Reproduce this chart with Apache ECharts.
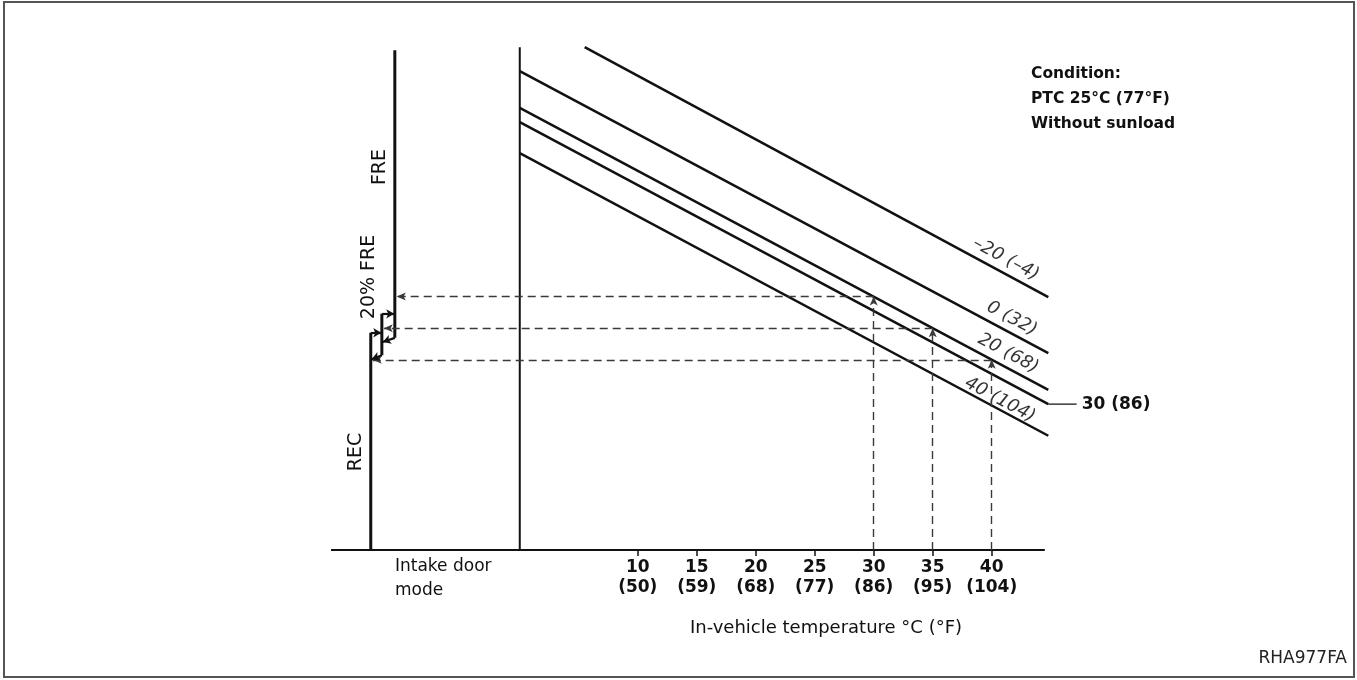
<!DOCTYPE html>
<html>
<head>
<meta charset="utf-8">
<script src="https://cdn.jsdelivr.net/npm/echarts@6.0.0/dist/echarts.min.js"></script>
<style>
html, body { margin: 0; padding: 0; background: #fff; }
#myChart { width: 1357px; height: 680px; }
</style>
</head>
<body>
<div id="myChart"></div>
<script>
// in-vehicle temperature ticks, °C and °F
const tempC = [10, 15, 20, 25, 30, 35, 40];
const tempF = [50, 59, 68, 77, 86, 95, 104];
const axisStart = -16;
const axisEnd = 44.5;

// ambient temperature lines (y = intake signal level, 0..100)
const ambientLabels = ['–20 (–4)', '0 (32)', '20 (68)', '30 (86)', '40 (104)'];
const startTemp = [5.5, 0, 0, 0, 0];
const startLevel = [98.6, 93.9, 86.7, 83.9, 77.8];
const endTemp = [44.8, 44.8, 44.8, 44.8, 44.8];
const endLevel = [49.6, 38.6, 31.4, 28.6, 22.4];

// intake door mode steps (REC / 20% FRE / FRE)
const modeNames = ['REC', '20% FRE', 'FRE'];
const modePos = [-12.63, -11.69, -10.59];
const modeLow = [0, 38.2, 41.6];
const modeHigh = [42.6, 46.3, 98.0];

// dashed read-off examples
const checkTemp = [30, 35, 40];
const checkLevel = [49.7, 43.5, 37.3];
const checkMode = [2, 1, 0];

const dividerTop = 98.6;

const FONT = '"DejaVu Sans", "Liberation Sans", Arial, sans-serif';
const INK = '#111';

var myChart = echarts.init(document.getElementById('myChart'), null, {renderer: 'canvas'});

// slanted line labels sit just above their line
const labelAt = [41.2, 41.7, 41.4, null, 40.7];
const labelLift = [15, 15, 15, 0, 10]; // px
const pxPerUnit = 5.1;

var series = [];

// baseline (temperature axis line)
series.push({
    type: 'line',
    data: [[axisStart, 0], [axisEnd, 0]],
    symbol: 'none',
    silent: true,
    lineStyle: {color: INK, width: 2}
});

// ambient lines
for (var i = 0; i < ambientLabels.length; i++) {
    series.push({
        type: 'line',
        data: [[startTemp[i], startLevel[i]], [endTemp[i], endLevel[i]]],
        symbol: 'none',
        silent: true,
        lineStyle: {color: INK, width: 2.5}
    });
}

// labels along the lines
var labelData = [];
for (var i = 0; i < ambientLabels.length; i++) {
    if (labelAt[i] === null) continue;
    var t = (labelAt[i] - startTemp[i]) / (endTemp[i] - startTemp[i]);
    var lv = startLevel[i] + (endLevel[i] - startLevel[i]) * t + labelLift[i] / pxPerUnit;
    labelData.push({value: [labelAt[i], lv], name: ambientLabels[i]});
}
series.push({
    type: 'scatter',
    data: labelData,
    symbolSize: 2,
    itemStyle: {color: 'rgba(0,0,0,0)'},
    silent: true,
    label: {
        show: true,
        position: 'inside',
        formatter: function (p) { return p.name; },
        rotate: -28,
        fontFamily: FONT,
        fontStyle: 'italic',
        fontSize: 18,
        color: '#000',
        textBorderWidth: 0,
        align: 'center',
        verticalAlign: 'middle'
    }
});

// leader for 30 (86)
series.push({
    type: 'line',
    data: [[endTemp[3], endLevel[3]], [endTemp[3] + 2.4, endLevel[3]]],
    symbol: 'none',
    silent: true,
    lineStyle: {color: INK, width: 1.2},
    endLabel: {
        show: true,
        formatter: ambientLabels[3],
        fontFamily: FONT,
        fontWeight: 'bold',
        fontSize: 17,
        color: INK,
        distance: 5
    }
});

// divider line at 0 °C plus dashed read-off guides
var guides = [];
for (var k = 0; k < checkTemp.length; k++) {
    guides.push([{coord: [checkTemp[k], 0]}, {coord: [checkTemp[k], checkLevel[k]]}]);
    guides.push([{coord: [checkTemp[k], checkLevel[k]]}, {coord: [modePos[checkMode[k]] + 0.17, checkLevel[k]]}]);
}
series.push({
    type: 'line',
    data: [[0, 0], [0, dividerTop]],
    symbol: 'none',
    silent: true,
    lineStyle: {color: INK, width: 2},
    markLine: {
        silent: true,
        animation: false,
        symbol: ['none', 'arrow'],
        symbolSize: [6, 9],
        label: {show: false},
        emphasis: {disabled: true},
        lineStyle: {color: '#3a3a3a', width: 1.4, type: [8, 5]},
        data: guides
    }
});

// intake door mode segments and step arrows
var steps = [
    [{coord: [modePos[0], modeHigh[0]]}, {coord: [modePos[1] - 0.05, modeHigh[0]]}],
    [{coord: [modePos[1], modeHigh[1]]}, {coord: [modePos[2] - 0.05, modeHigh[1]]}],
    [{coord: [modePos[2], modeLow[2]]}, {coord: [modePos[1] + 0.08, modeLow[2] - 0.8]}],
    [{coord: [modePos[1], modeLow[1]]}, {coord: [modePos[0] + 0.08, modeLow[1] - 0.8]}]
];
for (var m = 0; m < modeNames.length; m++) {
    var s = {
        type: 'line',
        name: modeNames[m],
        data: [[modePos[m], modeLow[m]], [modePos[m], modeHigh[m]]],
        symbol: 'none',
        silent: true,
        lineStyle: {color: INK, width: 3}
    };
    if (m === 0) {
        s.markLine = {
            silent: true,
            animation: false,
            symbol: ['none', 'arrow'],
            symbolSize: [7, 8],
            label: {show: false},
            emphasis: {disabled: true},
            lineStyle: {color: INK, width: 2.2, type: 'solid'},
            data: steps
        };
    }
    series.push(s);
}

// x range extends past the drawn axis line so the line ends and leader fit
myChart.setOption({
    animation: false,
    backgroundColor: '#fff',
    grid: {left: 331, right: 278, top: 40, bottom: 130, containLabel: false, outerBoundsMode: 'none'},
    xAxis: {
        type: 'value',
        min: axisStart,
        max: 47.4,
        axisLine: {show: false},
        axisTick: {show: true, customValues: tempC, length: 6, lineStyle: {color: INK, width: 1.5}},
        axisLabel: {
            customValues: tempC,
            formatter: function (v) { return v + '\n(' + tempF[tempC.indexOf(v)] + ')'; },
            fontFamily: FONT,
            fontWeight: 'bold',
            fontSize: 17,
            lineHeight: 20,
            color: INK,
            margin: 8
        },
        splitLine: {show: false}
    },
    yAxis: {
        type: 'value',
        min: 0,
        max: 100,
        show: false
    },
    graphic: [
        {type: 'rect', shape: {x: 4, y: 2, width: 1350, height: 675}, style: {fill: 'none', stroke: '#555', lineWidth: 2}, silent: true},
        {type: 'text', x: 380, y: 167, rotation: Math.PI / 2, style: {text: modeNames[2], fontFamily: FONT, fontSize: 19, fill: INK, textAlign: 'center', textVerticalAlign: 'middle'}},
        {type: 'text', x: 369, y: 277, rotation: Math.PI / 2, style: {text: modeNames[1], fontFamily: FONT, fontSize: 19, fill: INK, textAlign: 'center', textVerticalAlign: 'middle'}},
        {type: 'text', x: 356, y: 452, rotation: Math.PI / 2, style: {text: modeNames[0], fontFamily: FONT, fontSize: 19, fill: INK, textAlign: 'center', textVerticalAlign: 'middle'}},
        {type: 'text', x: 395, y: 555, style: {text: 'Intake door\nmode', fontFamily: FONT, fontSize: 17, lineHeight: 24, fill: INK, textAlign: 'left', textVerticalAlign: 'top'}},
        {type: 'text', x: 826, y: 628, style: {text: 'In-vehicle temperature °C (°F)', fontFamily: FONT, fontSize: 18, fill: INK, textAlign: 'center', textVerticalAlign: 'middle'}},
        {type: 'text', x: 1031, y: 61, style: {text: 'Condition:\nPTC 25°C (77°F)\nWithout sunload', fontFamily: FONT, fontWeight: 'bold', fontSize: 15.5, lineHeight: 25, fill: INK, textAlign: 'left', textVerticalAlign: 'top'}},
        {type: 'text', x: 1347, y: 659, style: {text: 'RHA977FA', fontFamily: FONT, fontSize: 17, fill: '#222', textAlign: 'right', textVerticalAlign: 'middle'}}
    ],
    series: series
});
</script>
</body>
</html>
